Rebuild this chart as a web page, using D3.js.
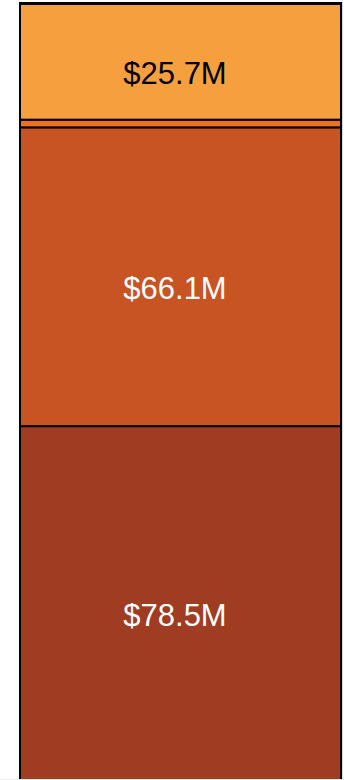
<!DOCTYPE html>
<html>
<head>
<meta charset="utf-8">
<script src="https://cdn.jsdelivr.net/npm/d3@7"></script>
<style>
  html, body { margin: 0; padding: 0; background: #fff; }
  svg { display: block; }
</style>
</head>
<body>
<svg id="chart" width="344" height="780"></svg>
<script>
// Stacked segments, bottom to top (values in $M)
const segments = ["Segment A", "Segment B", "Segment C", "Segment D"];
const values = [78.5, 66.1, 1.7, 25.7];
const labels = ["$78.5M", "$66.1M", "", "$25.7M"];
const colors = ["#9f3c22", "#c85323", "#ea7125", "#f59f3e"];
const labelColors = ["#ffffff", "#ffffff", "#ffffff", "#000000"];

const width = 344, height = 780;
const svg = d3.select("#chart");

const total = d3.sum(values);
const y = d3.scaleLinear().domain([0, total]).range([781, 3.5]);
const x = d3.scaleBand().domain(["total"]).range([20, 341]).padding(0);

let acc = 0;
const stacked = values.map((v, i) => {
  const d = { key: segments[i], y0: acc, y1: acc + v, label: labels[i], color: colors[i], text: labelColors[i] };
  acc += v;
  return d;
});

svg.selectAll("rect.seg")
  .data(stacked)
  .join("rect")
  .attr("class", "seg")
  .attr("x", x("total"))
  .attr("width", x.bandwidth())
  .attr("y", d => y(d.y1))
  .attr("height", d => y(d.y0) - y(d.y1))
  .attr("fill", d => d.color)
  .attr("stroke", "#000")
  .attr("stroke-width", 2);

// heavier top edge of the column
svg.append("line")
  .attr("x1", x("total") - 1).attr("x2", x("total") + x.bandwidth() + 1)
  .attr("y1", y(total)).attr("y2", y(total))
  .attr("stroke", "#000").attr("stroke-width", 3);

// light frame on the right and bottom edge
svg.append("line").attr("x1", 342.5).attr("x2", 342.5).attr("y1", 0).attr("y2", 780)
  .attr("stroke", "#d9d9d9").attr("stroke-width", 1);
svg.append("line").attr("x1", 0).attr("x2", 344).attr("y1", 779.5).attr("y2", 779.5)
  .attr("stroke", "#ececec").attr("stroke-width", 1);

svg.selectAll("text.lbl")
  .data(stacked.filter(d => d.label))
  .join("text")
  .attr("class", "lbl")
  .attr("x", 175)
  .attr("y", d => (y(d.y0) + y(d.y1)) / 2)
  .attr("dy", "0.72em")
  .attr("text-anchor", "middle")
  .attr("font-family", "'Liberation Sans', Arial, sans-serif")
  .attr("font-size", 31)
  .attr("fill", d => d.text)
  .text(d => d.label);
</script>
</body>
</html>
